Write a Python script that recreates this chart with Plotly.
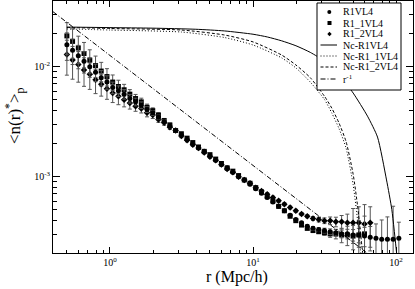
import plotly.graph_objects as go

# ---------------- data ----------------
r = [0.500, 0.548, 0.601, 0.659, 0.723, 0.793, 0.869, 0.953, 1.045, 1.146, 1.256, 1.377,
     1.510, 1.656, 1.816, 1.991, 2.183, 2.393, 2.624, 2.877, 3.155, 3.459, 3.793, 4.159,
     4.560, 5.000, 5.483, 6.012, 6.592, 7.228, 7.925, 8.690, 9.529, 10.45, 11.46, 12.56,
     13.77, 15.10, 16.56, 18.16, 19.91, 21.83, 23.94, 26.25, 28.78, 31.56, 34.60, 37.94,
     41.60, 45.62, 50.02, 54.85, 60.14, 65.94, 72.31, 79.28, 86.94, 95.33, 104.5]

n_R1VL4 = [0.01585, 0.01413, 0.01259, 0.01122, 0.01000, 0.008913, 0.007943, 0.007244,
           0.006457, 0.006026, 0.005623, 0.005129, 0.004786, 0.004467, 0.004074, 0.003802,
           0.003467, 0.003162, 0.002884, 0.002630, 0.002399, 0.002188, 0.001995, 0.001820,
           0.001698, 0.001549, 0.001413, 0.001288, 0.001202, 0.001096, 0.001000, 0.0009333,
           0.0008511, 0.0007762, 0.0007079, 0.0006457, 0.0005888, 0.0005370, 0.0004898,
           0.0004467, 0.0004074, 0.0003802, 0.0003548, 0.0003388, 0.0003311, 0.0003236,
           0.0003162, 0.0003090, 0.0003020, 0.0003020, 0.0002951, 0.0002951, 0.0002884,
           0.0002818, 0.0002754, 0.0002692, 0.0002692, 0.0002692, 0.0002754]
err_R1VL4 = [0.28, 0.26, 0.24, 0.22, 0.20, 0.18, 0.16, 0.14, 0.12, 0.11, 0.10, 0.09, 0.08,
             0.07, 0.06, 0.05, 0.045, 0.04, 0.035, 0.03, 0.03,
             0.025, 0.025, 0.025, 0.025, 0.025, 0.025, 0.025, 0.025, 0.025, 0.025,
             0.025, 0.025, 0.025, 0.025, 0.025, 0.025, 0.025, 0.025, 0.025, 0.025,
             0.03, 0.03, 0.04, 0.04, 0.05, 0.06, 0.07, 0.08, 0.10, 0.12, 0.15, 0.20,
             0.25, 0.35, 0.5, 0.6, 1.0, 0.4]

n_R1_1VL4 = [0.01905, 0.01698, 0.01479, 0.01318, 0.01148, 0.01023, 0.009120, 0.008128,
             0.007244, 0.006607, 0.006166, 0.005623, 0.005129, 0.004786, 0.004266, 0.003981,
             0.003631, 0.003236, 0.002951, 0.002630, 0.002455, 0.002239, 0.002042, 0.001862,
             0.001698, 0.001585, 0.001445, 0.001318, 0.001202, 0.001122, 0.001023, 0.0009333,
             0.0008710, 0.0007943, 0.0007244, 0.0006607, 0.0006026, 0.0005370, 0.0004898,
             0.0004365, 0.0003981, 0.0003631, 0.0003388, 0.0003236, 0.0003162, 0.0003090,
             0.0003020, 0.0003020, 0.0002951, 0.0002951, 0.0002884, 0.0002951, 0.0003020]
err_R1_1VL4 = [0.32, 0.30, 0.28, 0.26, 0.24, 0.22, 0.20, 0.18, 0.16, 0.14, 0.12, 0.10, 0.09,
               0.08, 0.07, 0.06, 0.05, 0.045, 0.04, 0.035, 0.03,
               0.025, 0.025, 0.025, 0.025, 0.025, 0.025, 0.025, 0.025, 0.025, 0.025, 0.025,
               0.025, 0.025, 0.025, 0.025, 0.025, 0.025, 0.025, 0.025, 0.025, 0.025, 0.025,
               0.03, 0.04, 0.05, 0.07, 0.10, 0.15, 0.20, 0.25, 0.35, 0.45]

n_R1_2VL4 = [0.01288, 0.01148, 0.01047, 0.009333, 0.008511, 0.007586, 0.006918, 0.006310,
             0.005754, 0.005370, 0.005012, 0.004677, 0.004365, 0.004169, 0.003802, 0.003631,
             0.003311, 0.003090, 0.002818, 0.002630, 0.002344, 0.002138, 0.001950, 0.001820,
             0.001660, 0.001514, 0.001413, 0.001288, 0.001175, 0.001096, 0.001000, 0.0009333,
             0.0008710, 0.0007943, 0.0007413, 0.0006918, 0.0006457, 0.0006026, 0.0005623,
             0.0005248, 0.0004898, 0.0004571, 0.0004365, 0.0004169, 0.0004074, 0.0003981,
             0.0003981, 0.0003890, 0.0003890, 0.0003802, 0.0003802, 0.0003802, 0.0003715,
             0.0003802]
err_R1_2VL4 = [0.35, 0.33, 0.31, 0.29, 0.27, 0.25, 0.22, 0.20, 0.18, 0.16, 0.14, 0.12, 0.10,
               0.09, 0.08, 0.07, 0.06, 0.05, 0.045, 0.04, 0.035,
               0.03, 0.03, 0.03, 0.03, 0.03, 0.03, 0.03, 0.03, 0.03, 0.03, 0.03,
               0.03, 0.03, 0.03, 0.03, 0.03, 0.03, 0.03, 0.03, 0.03, 0.03,
               0.03, 0.04, 0.05, 0.06, 0.08, 0.10, 0.14, 0.20, 0.35, 0.40, 0.50, 0.40]

r_nc1 = [0.5, 1.0, 1.995, 3.981, 6.310, 10.0, 12.59, 15.85, 19.95, 25.12, 31.62, 39.81,
         50.12, 63.10, 74.13, 85.70, 93.33, 100.7, 104.7]
nc_R1VL4 = [0.02291, 0.02265, 0.02239, 0.02188, 0.02113, 0.01972, 0.01862, 0.01718, 0.01549,
            0.01349, 0.01122, 0.008511, 0.005754, 0.003548, 0.002291, 0.0009333, 0.0005012,
            0.0002042, 0.0001259]

r_nc2 = [0.5, 1.0, 3.162, 6.310, 10.0, 15.85, 19.95, 25.12, 31.62, 35.48, 39.81, 44.67,
         50.12, 53.70, 57.54, 60.26]
nc_R1_2VL4 = [0.02270, 0.02223, 0.02153, 0.01941, 0.01679, 0.01276, 0.01035, 0.007943,
              0.005370, 0.004207, 0.003090, 0.002089, 0.001047, 0.0005495, 0.0002399, 0.0001413]

r_nc3 = [0.5, 1.0, 3.162, 6.310, 10.0, 15.85, 19.95, 25.12, 31.62, 35.48, 39.81, 44.67,
         50.12, 53.70, 57.54]
nc_R1_1VL4 = [0.02203, 0.02153, 0.02065, 0.01841, 0.01574, 0.01202, 0.009727, 0.007244,
              0.005012, 0.003802, 0.002754, 0.001820, 0.0008414, 0.0004074, 0.0001660]

r_pow = [0.4, 100.0]
n_pow = [0.0316, 0.0001265]

legend_labels = ["R1VL4", "R1_1VL4", "R1_2VL4", "Nc-R1VL4", "Nc-R1_1VL4", "Nc-R1_2VL4",
                 "r<sup>-1</sup>"]

# ---------------- figure ----------------
SERIF = "Liberation Serif, Times New Roman, serif"
fig = go.Figure()

def pts(xs, ys, errs, symbol, size, name):
    e = [f * v for f, v in zip(errs, ys)]
    fig.add_trace(go.Scatter(
        x=xs, y=ys, mode="markers", name=name, showlegend=False,
        marker=dict(symbol=symbol, size=size, color="black"),
        error_y=dict(type="data", array=e, visible=True, color="#555555",
                     thickness=1, width=2)))

pts(r[:len(n_R1_2VL4)], n_R1_2VL4, err_R1_2VL4, "diamond", 5, "R1_2VL4")
pts(r[:len(n_R1_1VL4)], n_R1_1VL4, err_R1_1VL4, "square", 5, "R1_1VL4")
pts(r, n_R1VL4, err_R1VL4, "circle", 5, "R1VL4")

DASHES = {"solid": "solid", "dot": "1px,2px", "dash": "3px,2px", "dashdot": "5px,2px,1px,2px"}

def ln(xs, ys, dash, name):
    fig.add_trace(go.Scatter(x=xs, y=ys, mode="lines", name=name, showlegend=False,
                             line=dict(color="black", width=1, dash=DASHES[dash],
                                       shape="spline", smoothing=0.6)))

ln(r_nc1, nc_R1VL4, "solid", "Nc-R1VL4")
ln(r_nc3, nc_R1_1VL4, "dot", "Nc-R1_1VL4")
ln(r_nc2, nc_R1_2VL4, "dash", "Nc-R1_2VL4")
ln(r_pow, n_pow, "dashdot", "r^-1")

# axes
L, R, T, B = 53, 2, 1, 36
W, H = 415, 289
pw, ph = W - L - R, H - T - B

def px(x):
    return (x - L) / pw

def py(y):
    return (H - B - y) / ph

xminor = [v * m for m in (0.1, 1, 10, 100) for v in range(2, 10)]
yminor = [v * m for m in (1e-4, 1e-3, 1e-2) for v in range(2, 10)]

fig.update_xaxes(type="log", range=[-0.398, 2.118], showline=True, linecolor="black",
                 linewidth=1, mirror="allticks", ticks="inside", ticklen=6, tickcolor="black",
                 tickvals=[1, 10, 100],
                 ticktext=["10<sup>0</sup>", "10<sup>1</sup>", "10<sup>2</sup>"],
                 tickfont=dict(family=SERIF, size=10, color="black"),
                 minor=dict(tickmode="array", tickvals=xminor, ticks="inside", ticklen=3,
                            tickcolor="black", showgrid=False),
                 showgrid=False, zeroline=False)
fig.update_yaxes(type="log", range=[-3.694, -1.403], showline=True, linecolor="black",
                 linewidth=1, mirror="allticks", ticks="inside", ticklen=7, tickcolor="black",
                 tickvals=[1e-3, 1e-2],
                 ticktext=["10<sup>-3</sup>", "10<sup>-2</sup>"],
                 tickfont=dict(family=SERIF, size=10, color="black"),
                 minor=dict(tickmode="array", tickvals=yminor, ticks="inside", ticklen=4,
                            tickcolor="black", showgrid=False),
                 showgrid=False, zeroline=False)

shapes = []
annos = []
# legend box
shapes.append(dict(type="rect", xref="paper", yref="paper", x0=px(317), x1=px(401),
                   y0=py(90), y1=py(3), line=dict(color="black", width=1),
                   fillcolor="white", layer="above"))
rows = [12, 23, 34, 45, 56, 67, 79]
# marker keys
shapes.append(dict(type="circle", xref="paper", yref="paper", x0=px(327.3), x1=px(331.3),
                   y0=py(rows[0] + 2), y1=py(rows[0] - 2), fillcolor="black",
                   line=dict(width=0), layer="above"))
shapes.append(dict(type="rect", xref="paper", yref="paper", x0=px(327.5), x1=px(331.5),
                   y0=py(rows[1] + 2), y1=py(rows[1] - 2), fillcolor="black",
                   line=dict(width=0), layer="above"))
cx, cy = px(329.5), py(rows[2])
dx, dy = 2.2 / pw, 2.2 / ph
shapes.append(dict(type="path", xref="paper", yref="paper",
                   path=f"M {cx} {cy+dy} L {cx+dx} {cy} L {cx} {cy-dy} L {cx-dx} {cy} Z",
                   fillcolor="black", line=dict(width=0), layer="above"))
for row, dash in zip(rows[3:], ["solid", "dot", "dash", "dashdot"]):
    shapes.append(dict(type="line", xref="paper", yref="paper", x0=px(320.5), x1=px(337),
                       y0=py(row), y1=py(row),
                       line=dict(color="black", width=1, dash=DASHES[dash]),
                       layer="above"))
for row, lab in zip(rows, legend_labels):
    annos.append(dict(text=lab, xref="paper", yref="paper", x=px(341), y=py(row),
                      xanchor="left", yanchor="middle", showarrow=False,
                      font=dict(family=SERIF, size=10, color="black")))

annos.append(dict(text="r (Mpc/h)", xref="paper", yref="paper", x=px(237), y=py(277),
                  xanchor="center", yanchor="middle", showarrow=False,
                  font=dict(family=SERIF, size=16, color="black")))
annos.append(dict(text="<n(r)<sup>*</sup>><sub>p</sub>", xref="paper", yref="paper",
                  x=px(14), y=py(116), xanchor="center", yanchor="middle", textangle=-90,
                  showarrow=False, font=dict(family=SERIF, size=17, color="black")))

fig.update_layout(width=W, height=H, margin=dict(l=L, r=R, t=T, b=B),
                  paper_bgcolor="white", plot_bgcolor="white", showlegend=False,
                  shapes=shapes, annotations=annos, hovermode=False)

fig.write_html("out.html", config={"displayModeBar": False, "staticPlot": True},
               post_script="document.body.style.margin='0px';")
